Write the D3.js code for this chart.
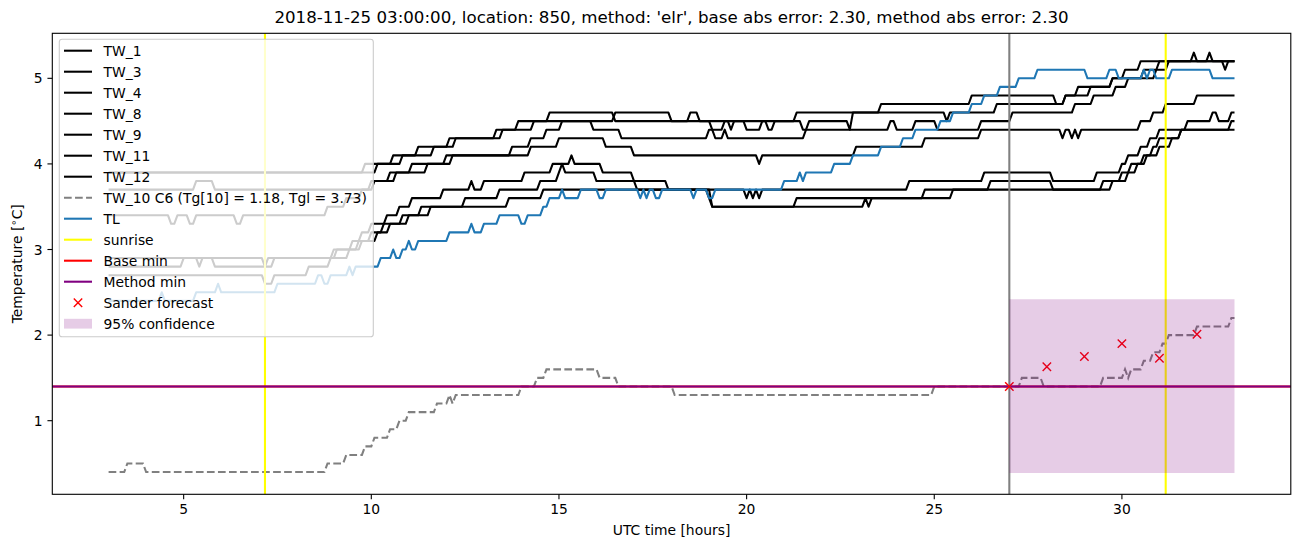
<!DOCTYPE html>
<html><head><meta charset="utf-8">
<script src="https://cdn.jsdelivr.net/npm/d3@7"></script>
<style>body{margin:0;background:#fff} text{font-family:"DejaVu Sans",sans-serif;fill:#000}</style>
</head><body><svg id="c" width="1302" height="547"></svg>
<script>
const titleText = "2018-11-25 03:00:00, location: 850, method: 'elr', base abs error: 2.30, method abs error: 2.30";
const xLabel = "UTC time [hours]";
const xTicks = [5, 10, 15, 20, 25, 30];
const yTicks = [1, 2, 3, 4, 5];
const blackNames = ["TW_1", "TW_3", "TW_4", "TW_8", "TW_9", "TW_11", "TW_12"];
// step series: [hour, value] = value holds from that hour on (5-minute samples, 3h..33h)
const tw1 = [[3,3.9],[9.83,4.0],[10.58,4.1],[11.25,4.2],[12.08,4.3],[13.5,4.4],[14.33,4.5],[14.75,4.6],[16.5,4.5],[18.5,4.6],[18.75,4.5],[21.33,4.6],[23.58,4.7],[26.0,4.8],[28.25,4.7],[28.5,4.8],[28.83,4.9],[29.75,5.0],[30.08,5.1],[30.5,5.2],[31.92,5.3],[32.0,5.2],[32.33,5.3],[32.42,5.2],[32.75,5.1],[32.83,5.2]];
const tw3 = [[3,3.9],[10.17,4.0],[10.83,4.1],[11.67,4.2],[12.25,4.3],[13.33,4.4],[13.92,4.5],[16.5,4.6],[18.0,4.5],[19.08,4.4],[19.42,4.5],[19.58,4.4],[19.67,4.5],[20.0,4.4],[20.42,4.5],[20.58,4.4],[20.75,4.5],[21.5,4.4],[21.67,4.5],[22.75,4.4],[22.83,4.6],[25.33,4.5],[25.42,4.6],[26.67,4.7],[28.5,4.8],[29.17,4.9],[29.75,5.0],[30.58,5.1],[31.0,5.2]];
const tw4 = [[3,3.7],[5.33,3.8],[5.83,3.7],[10.08,3.8],[10.5,3.9],[11.08,4.0],[12.0,4.1],[13.75,4.2],[14.25,4.3],[14.67,4.4],[15.08,4.5],[15.92,4.4],[16.67,4.3],[19.0,4.4],[19.17,4.3],[19.42,4.4],[19.5,4.3],[21.58,4.4],[23.83,4.5],[24.0,4.4],[24.5,4.5],[25.08,4.4],[26.25,4.5],[27.08,4.6],[28.75,4.7],[29.25,4.8],[29.83,4.9],[30.17,5.0],[30.92,5.1],[31.25,5.2]];
const tw8 = [[3,3.4],[4.67,3.3],[4.83,3.4],[5.17,3.3],[5.33,3.4],[6.42,3.3],[6.58,3.4],[8.83,3.5],[9.33,3.6],[9.75,3.7],[10.0,3.8],[10.67,3.9],[11.5,4.0],[12.17,4.1],[14.25,4.2],[15.0,4.3],[16.25,4.2],[17.0,4.1],[20.33,4.0],[20.42,4.1],[22.92,4.2],[24.75,4.3],[26.25,4.4],[28.42,4.3],[28.5,4.4],[28.67,4.3],[28.75,4.4],[28.83,4.3],[28.92,4.4],[30.5,4.5],[30.83,4.6],[31.17,4.7],[32.0,4.8]];
const tw9 = [[3,2.8],[5.0,2.9],[5.42,2.8],[5.5,2.9],[5.83,2.8],[7.25,2.9],[9.08,3.0],[9.5,3.1],[9.75,3.2],[10.0,3.3],[10.42,3.4],[10.75,3.5],[11.08,3.6],[11.92,3.7],[12.67,3.8],[12.75,3.7],[13.0,3.8],[14.08,3.9],[14.83,4.0],[15.33,4.1],[15.42,4.0],[16.17,3.9],[17.0,3.8],[17.92,3.7],[19.0,3.6],[19.08,3.5],[21.33,3.6],[24.75,3.7],[26.5,3.8],[28.17,3.7],[29.75,3.8],[30.0,3.9],[30.25,4.0],[30.58,4.1],[30.83,4.2],[31.0,4.3],[31.58,4.4],[32.92,4.5]];
const tw11 = [[3,2.9],[7.17,2.8],[7.42,2.9],[9.0,3.0],[9.67,3.1],[10.0,3.2],[10.33,3.3],[10.83,3.4],[11.33,3.5],[12.5,3.6],[13.42,3.7],[14.5,3.8],[15.0,3.9],[15.08,4.0],[15.17,3.9],[16.0,3.8],[17.08,3.7],[20.0,3.6],[20.08,3.7],[20.17,3.6],[20.25,3.7],[20.33,3.6],[20.42,3.7],[24.33,3.8],[26.33,3.9],[28.17,3.8],[29.33,3.9],[30.0,4.0],[30.17,4.1],[30.5,4.2],[30.75,4.3],[31.0,4.4],[31.75,4.5],[32.42,4.6],[32.58,4.5],[32.92,4.6]];
const tw12 = [[3,2.7],[7.17,2.6],[7.42,2.7],[8.33,2.8],[8.92,2.9],[9.42,3.0],[9.75,3.1],[10.17,3.2],[10.5,3.3],[11.0,3.4],[11.58,3.5],[13.67,3.6],[14.58,3.7],[19.08,3.5],[23.17,3.6],[23.25,3.5],[23.33,3.6],[25.5,3.7],[29.5,3.8],[30.17,3.9],[30.42,4.0],[30.67,4.1],[31.0,4.2],[31.33,4.3],[31.58,4.4]];
const tw10 = [[3,0.4],[3.5,0.5],[4.0,0.4],[8.83,0.5],[9.33,0.6],[9.83,0.7],[10.08,0.8],[10.5,0.9],[10.75,1.0],[11.0,1.1],[11.75,1.2],[12.08,1.3],[12.17,1.2],[12.25,1.3],[14.0,1.4],[14.42,1.5],[14.67,1.6],[16.08,1.5],[16.58,1.4],[18.08,1.3],[25.0,1.4],[27.33,1.5],[27.92,1.4],[29.5,1.5],[30.08,1.6],[30.17,1.5],[30.25,1.6],[30.58,1.7],[30.83,1.8],[31.08,1.9],[31.25,2.0],[32.0,2.1],[32.92,2.2]];
const tl = [[3,2.4],[4.42,2.5],[4.5,2.4],[5.33,2.5],[5.92,2.6],[6.0,2.5],[7.5,2.6],[8.58,2.7],[8.75,2.6],[8.92,2.7],[9.42,2.8],[9.5,2.7],[9.58,2.8],[10.25,2.9],[10.58,3.0],[10.67,2.9],[10.83,3.0],[11.0,3.1],[11.08,3.0],[11.25,3.1],[12.08,3.2],[12.67,3.3],[12.75,3.2],[13.0,3.3],[13.42,3.4],[14.0,3.3],[14.17,3.4],[14.58,3.5],[14.75,3.6],[15.08,3.7],[15.17,3.6],[15.58,3.7],[16.08,3.6],[16.25,3.7],[17.17,3.6],[17.25,3.7],[17.33,3.6],[17.42,3.7],[17.58,3.6],[17.75,3.7],[18.58,3.6],[18.67,3.7],[19.0,3.6],[19.17,3.7],[21.0,3.8],[21.42,3.9],[21.5,3.8],[21.58,3.9],[22.33,4.0],[22.83,4.1],[23.58,4.2],[24.17,4.3],[24.5,4.4],[25.17,4.5],[25.5,4.6],[26.0,4.7],[26.33,4.8],[26.75,4.9],[27.25,5.0],[27.75,5.1],[29.08,5.0],[29.67,5.1],[29.92,5.0],[30.58,5.1],[30.67,5.0],[30.75,5.1],[30.92,5.0],[31.33,5.1],[32.42,5.0]];
const sunriseHours = [7.1667, 31.1667];
const forecastHour = [27];
const baseMin = [1.4];
const methodMin = [1.4];
const sanderX = [27, 28, 29, 30, 31, 32];
const sanderY = [1.40, 1.63, 1.75, 1.90, 1.73, 2.01];
const confX = [27, 33];
const confLow = [0.39, 0.39];
const confHigh = [2.42, 2.42];
const legendLabels = ["TW_1","TW_3","TW_4","TW_8","TW_9","TW_11","TW_12","TW_10 C6 (Tg[10] = 1.18, Tgl = 3.73)","TL","sunrise","Base min","Method min","Sander forecast","95% confidence"];

const L = 52.3, R = 1290.8, T = 33.3, B = 494.3;
const LW = 2.08;
const svg = d3.select("#c");
const x = d3.scaleLinear().domain([1.5, 34.5]).range([L, R]);
const y = d3.scaleLinear().domain([0.14, 5.526]).range([B, T]);

function decode(runs) {
  const out = []; let k = 0;
  for (let i = 0; i <= 360; i++) {
    while (k + 1 < runs.length && Math.round(runs[k + 1][0] * 12) <= 36 + i) k++;
    out.push([3 + i / 12, runs[k][1]]);
  }
  return out;
}
svg.append("defs").append("clipPath").attr("id", "clip")
  .append("rect").attr("x", L).attr("y", T).attr("width", R - L).attr("height", B - T);
const g = svg.append("g").attr("clip-path", "url(#clip)");
const line = d3.line().x(d => x(d[0])).y(d => y(d[1]));

[tw1, tw3, tw4, tw8, tw9, tw11, tw12].forEach(s => {
  g.append("path").attr("d", line(decode(s))).attr("fill", "none").attr("stroke", "#000")
    .attr("stroke-width", LW).attr("stroke-linejoin", "round");
});
g.append("path").attr("d", line(decode(tw10))).attr("fill", "none").attr("stroke", "#808080")
  .attr("stroke-width", LW).attr("stroke-dasharray", "7.7,3.33");
g.append("path").attr("d", line(decode(tl))).attr("fill", "none").attr("stroke", "#1f77b4")
  .attr("stroke-width", LW).attr("stroke-linejoin", "round");
sunriseHours.forEach(h => g.append("line").attr("x1", x(h)).attr("x2", x(h)).attr("y1", T).attr("y2", B)
  .attr("stroke", "#ffff00").attr("stroke-width", LW));
baseMin.forEach(v => g.append("line").attr("x1", L).attr("x2", R).attr("y1", y(v)).attr("y2", y(v))
  .attr("stroke", "#ff0000").attr("stroke-width", LW));
methodMin.forEach(v => g.append("line").attr("x1", L).attr("x2", R).attr("y1", y(v)).attr("y2", y(v))
  .attr("stroke", "#800080").attr("stroke-width", LW));
forecastHour.forEach(h => g.append("line").attr("x1", x(h)).attr("x2", x(h)).attr("y1", T).attr("y2", B)
  .attr("stroke", "#808080").attr("stroke-width", LW));
const ms = 4.2;
sanderX.forEach((h, i) => {
  const cx = x(h), cy = y(sanderY[i]);
  g.append("path").attr("d", `M${cx-ms},${cy-ms}L${cx+ms},${cy+ms}M${cx-ms},${cy+ms}L${cx+ms},${cy-ms}`)
    .attr("stroke", "#ff0000").attr("stroke-width", 1.4).attr("fill", "none");
});
const area = d3.area().x(d => x(d[0])).y0(d => y(d[1])).y1(d => y(d[2]));
g.append("path").attr("d", area(confX.map((h, i) => [h, confLow[i], confHigh[i]])))
  .attr("fill", "#800080").attr("fill-opacity", 0.2);

// axes
const ax = svg.append("g");
ax.append("rect").attr("x", L).attr("y", T).attr("width", R - L).attr("height", B - T)
  .attr("fill", "none").attr("stroke", "#000").attr("stroke-width", 1.1);
xTicks.forEach(t => {
  ax.append("line").attr("x1", x(t)).attr("x2", x(t)).attr("y1", B).attr("y2", B + 4.86).attr("stroke", "#000").attr("stroke-width", 1.1);
  ax.append("text").attr("x", x(t)).attr("y", B + 20).attr("text-anchor", "middle").attr("font-size", 13.89).text(t);
});
yTicks.forEach(t => {
  ax.append("line").attr("x1", L - 4.86).attr("x2", L).attr("y1", y(t)).attr("y2", y(t)).attr("stroke", "#000").attr("stroke-width", 1.1);
  ax.append("text").attr("x", L - 9.7).attr("y", y(t) + 5).attr("text-anchor", "end").attr("font-size", 13.89).text(t);
});
svg.append("text").attr("x", (L + R) / 2).attr("y", 535).attr("text-anchor", "middle").attr("font-size", 13.89).text(xLabel);
const yl = svg.append("text").attr("transform", `translate(22,${(T + B) / 2}) rotate(-90)`).attr("text-anchor", "middle").attr("font-size", 13.89);
yl.append("tspan").text("Temperature [");
yl.append("tspan").attr("font-size", 10).attr("dy", -5).text("\u2218");
yl.append("tspan").attr("dy", 5).text("C]");
svg.append("text").attr("x", (L + R) / 2).attr("y", 23).attr("text-anchor", "middle").attr("font-size", 16.67).text(titleText);

// legend
const lg = svg.append("g");
lg.append("rect").attr("x", 59.3).attr("y", 39.3).attr("width", 314).attr("height", 297.4).attr("rx", 2.8)
  .attr("fill", "#fff").attr("fill-opacity", 0.8).attr("stroke", "#cccccc").attr("stroke-width", 1.1);
legendLabels.forEach((lab, i) => {
  const cy = 50.7 + i * 21.0;
  const hx0 = 64, hx1 = 92;
  if (i < 7) lg.append("line").attr("x1", hx0).attr("x2", hx1).attr("y1", cy).attr("y2", cy).attr("stroke", "#000").attr("stroke-width", LW);
  else if (i === 7) lg.append("line").attr("x1", hx0).attr("x2", hx1).attr("y1", cy).attr("y2", cy).attr("stroke", "#808080").attr("stroke-width", LW).attr("stroke-dasharray", "7.7,3.33");
  else if (i === 8) lg.append("line").attr("x1", hx0).attr("x2", hx1).attr("y1", cy).attr("y2", cy).attr("stroke", "#1f77b4").attr("stroke-width", LW);
  else if (i === 9) lg.append("line").attr("x1", hx0).attr("x2", hx1).attr("y1", cy).attr("y2", cy).attr("stroke", "#ffff00").attr("stroke-width", LW);
  else if (i === 10) lg.append("line").attr("x1", hx0).attr("x2", hx1).attr("y1", cy).attr("y2", cy).attr("stroke", "#ff0000").attr("stroke-width", LW);
  else if (i === 11) lg.append("line").attr("x1", hx0).attr("x2", hx1).attr("y1", cy).attr("y2", cy).attr("stroke", "#800080").attr("stroke-width", LW);
  else if (i === 12) { const cx = 78; lg.append("path").attr("d", `M${cx-ms},${cy-ms}L${cx+ms},${cy+ms}M${cx-ms},${cy+ms}L${cx+ms},${cy-ms}`).attr("stroke", "#ff0000").attr("stroke-width", 1.4); }
  else lg.append("rect").attr("x", hx0).attr("y", cy - 4.9).attr("width", hx1 - hx0).attr("height", 9.8).attr("fill", "#800080").attr("fill-opacity", 0.2);
  lg.append("text").attr("x", 103.5).attr("y", cy + 5).attr("font-size", 13.89).text(lab);
});
</script></body></html>
